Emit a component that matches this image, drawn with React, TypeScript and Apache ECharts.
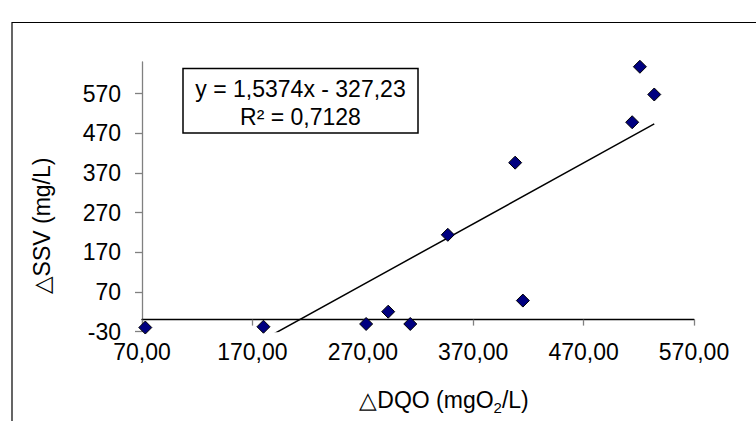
import React, { useEffect, useRef } from 'react';
import * as echarts from 'echarts';

// Data
const DQO = [73, 180, 273, 293, 313, 347, 408, 415, 514, 521, 534];
const SSV = [-20, -18, -11, 20, -11, 214, 396, 48, 498, 638, 568];
const X_TICKS = [70, 170, 270, 370, 470, 570];
const Y_TICKS = [-30, 70, 170, 270, 370, 470, 570];
const SLOPE = 1.5374;
const INTERCEPT = -327.23;
const R2 = 0.7128;

const FONT = 'Liberation Sans, Arial, sans-serif';
const fmtComma = (v: number, d: number) => v.toFixed(d).replace('.', ',');

export default function App() {
  const ref = useRef<HTMLDivElement>(null);

  useEffect(() => {
    if (!ref.current) return;
    const chart = echarts.init(ref.current, null, { renderer: 'svg' });

    const points = DQO.map((x, i) => [x, SSV[i]]);
    const xMin = Math.min(...DQO);
    const xMax = Math.max(...DQO);
    const trend = [
      [xMin, SLOPE * xMin + INTERCEPT],
      [xMax, SLOPE * xMax + INTERCEPT],
    ];
    const eqText = `y = ${fmtComma(SLOPE, 4)}x ${INTERCEPT < 0 ? '-' : '+'} ${fmtComma(Math.abs(INTERCEPT), 2)}`;
    const r2Text = `R² = ${fmtComma(R2, 4)}`;

    chart.setOption({
      animation: false,
      backgroundColor: '#ffffff',
      textStyle: { fontFamily: FONT },
      grid: { left: 142, right: 62, top: 62, bottom: 89.5, containLabel: false },
      xAxis: {
        type: 'value',
        min: 70,
        max: 570,
        axisLine: { show: true, onZero: true, lineStyle: { color: '#000000', width: 1.3 } },
        axisTick: { show: true, length: 6, customValues: X_TICKS, lineStyle: { color: '#808080', width: 1.3 } },
        axisLabel: {
          customValues: X_TICKS,
          margin: 9,
          fontSize: 23,
          color: '#000000',
          fontFamily: FONT,
          formatter: (v: number) => fmtComma(v, 2),
        },
        splitLine: { show: false },
      },
      yAxis: {
        type: 'value',
        min: -30,
        max: 650,
        axisLine: { show: true, onZero: false, lineStyle: { color: '#808080', width: 1.3 } },
        axisTick: { show: true, length: 7, customValues: Y_TICKS, lineStyle: { color: '#808080', width: 1.3 } },
        axisLabel: {
          customValues: Y_TICKS,
          margin: 21,
          fontSize: 23,
          color: '#000000',
          fontFamily: FONT,
        },
        splitLine: { show: false },
      },
      series: [
        {
          type: 'line',
          data: trend,
          showSymbol: false,
          symbol: 'none',
          clip: true,
          lineStyle: { color: '#000000', width: 1.5 },
          z: 2,
          silent: true,
        },
        {
          type: 'scatter',
          data: points,
          symbol: 'diamond',
          symbolSize: 13,
          itemStyle: { color: '#000080', borderColor: '#000000', borderWidth: 1, opacity: 1 },
          z: 3,
        },
      ],
      graphic: [
        {
          type: 'rect',
          shape: { x: 12, y: 22.5, width: 800, height: 500 },
          style: { fill: 'none', stroke: '#000000', lineWidth: 1.2 },
          silent: true,
          z: 0,
        },
        {
          type: 'rect',
          shape: { x: 183, y: 68.5, width: 235, height: 64.5 },
          style: { fill: '#ffffff', stroke: '#000000', lineWidth: 1.5 },
          z: 10,
        },
        {
          type: 'text',
          x: 300.5,
          y: 88.5,
          style: { text: eqText, fontSize: 23, fontFamily: FONT, fill: '#000000', align: 'center', verticalAlign: 'middle' },
          z: 11,
        },
        {
          type: 'text',
          x: 300.5,
          y: 116.5,
          style: { text: r2Text, fontSize: 23, fontFamily: FONT, fill: '#000000', align: 'center', verticalAlign: 'middle' },
          z: 11,
        },
        {
          type: 'text',
          x: 42,
          y: 226,
          rotation: Math.PI / 2,
          style: { text: '△SSV (mg/L)', fontSize: 23, fontFamily: FONT, fill: '#000000', align: 'center', verticalAlign: 'middle' },
          z: 11,
        },
        {
          type: 'text',
          x: 444,
          y: 400,
          style: {
            text: '{a|△DQO (mgO}{b|2}{a|/L)}',
            align: 'center',
            verticalAlign: 'middle',
            rich: {
              a: { fontSize: 23, fontFamily: FONT, fill: '#000000', color: '#000000', lineHeight: 30, verticalAlign: 'middle' },
              b: { fontSize: 15, fontFamily: FONT, fill: '#000000', color: '#000000', lineHeight: 15, verticalAlign: 'bottom' },
            },
          },
          z: 11,
        },
      ],
    });

    return () => chart.dispose();
  }, []);

  return (
    <div
      ref={ref}
      style={{ position: 'fixed', left: 0, top: 0, width: 756, height: 421, background: '#fff' }}
    />
  );
}
